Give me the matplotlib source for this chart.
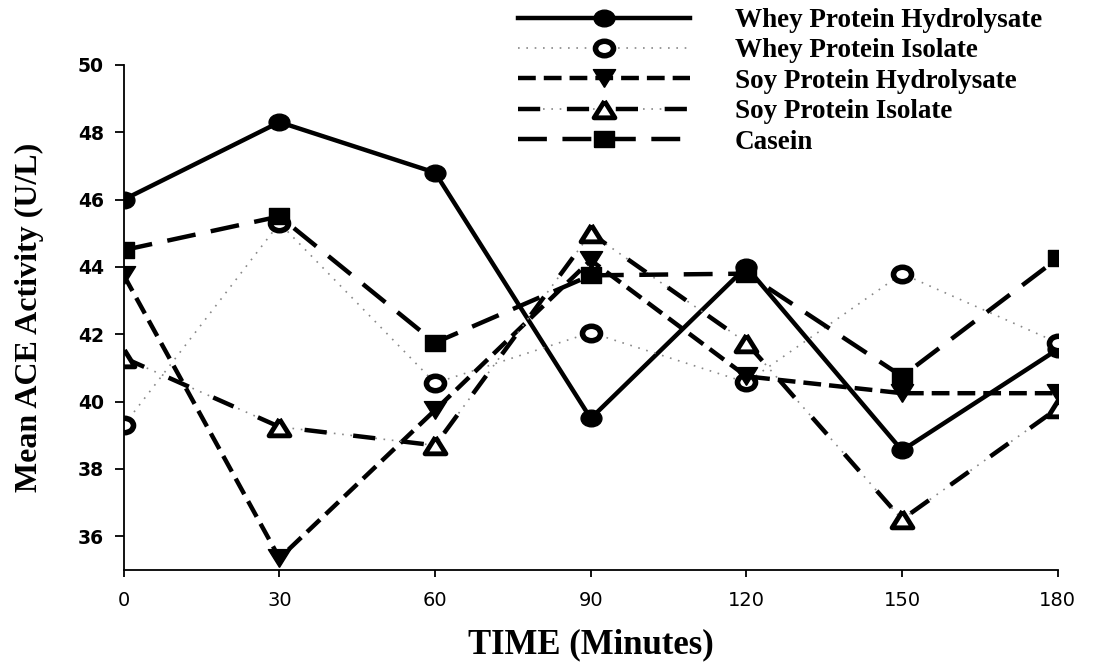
import numpy as np
from matplotlib import pyplot as plt
from matplotlib.path import Path
from matplotlib.markers import MarkerStyle

# sampling times (minutes)
time = [0, 30, 60, 90, 120, 150, 180]

# mean ACE activity (U/L)
whey_hydrolysate = [46.0, 48.3, 46.8, 39.5, 44.0, 38.55, 41.55]
whey_isolate = [39.3, 45.3, 40.55, 42.05, 40.57, 43.8, 41.75]
soy_hydrolysate = [43.75, 35.35, 39.75, 44.2, 40.75, 40.25, 40.25]
soy_isolate = [41.3, 39.25, 38.7, 45.0, 41.75, 36.5, 39.8]
casein = [44.5, 45.5, 41.75, 43.75, 43.8, 40.75, 44.25]

labels = ["Whey Protein Hydrolysate", "Whey Protein Isolate",
          "Soy Protein Hydrolysate", "Soy Protein Isolate", "Casein"]

# the original picture is a bit wider than tall, so the markers are too
sx = 1.25
def wide(verts, codes=None):
    v = np.array(verts, dtype=float)
    v[:, 0] *= sx
    return MarkerStyle(Path(v, codes))

circ = Path.unit_circle()
m_circle = wide(circ.vertices, circ.codes)
m_down = wide([(0, -1), (-1, 1), (1, 1), (0, -1)])
m_up = wide([(0, 1), (-1, -1), (1, -1), (0, 1)])
m_square = wide([(-1, -1), (1, -1), (1, 1), (-1, 1), (-1, -1)])

fig = plt.figure(figsize=(10.96, 6.62), dpi=100)
ax = fig.add_axes([0.113, 0.139, 0.852, 0.763])

lw = 3.2
h1, = ax.plot(time, whey_hydrolysate, color="black", lw=lw, ls="-",
              marker=m_circle, ms=15)
h2, = ax.plot(time, whey_isolate, color="#888888", lw=1.2, ls=(0, (1, 4)),
              marker=m_circle, ms=13, mfc="white", mec="black", mew=4)
h3, = ax.plot(time, soy_hydrolysate, color="black", lw=lw, ls=(0, (4, 1.8)),
              marker=m_down, ms=16)
h4a, = ax.plot(time, soy_isolate, color="#888888", lw=1.2, ls=(0, (1, 4)))
h4b, = ax.plot(time, soy_isolate, color="black", lw=lw, ls=(0, (5, 6)),
               marker=m_up, ms=15, mfc="white", mec="black", mew=3.5)
h5, = ax.plot(time, casein, color="black", lw=lw, ls=(0, (6.5, 3.5)),
              marker=m_square, ms=15)

ax.set_xlim(0, 180)
ax.set_ylim(35, 50)
ax.set_xticks(time)
ax.set_yticks([36, 38, 40, 42, 44, 46, 48, 50])
ax.spines["top"].set_visible(False)
ax.spines["right"].set_visible(False)
ax.spines["left"].set_linewidth(1.3)
ax.spines["bottom"].set_linewidth(1.3)
ax.tick_params(axis="x", direction="out", length=5, width=1.3, pad=10)
ax.tick_params(axis="y", direction="out", length=6.5, width=1.3, pad=8)

for t in ax.get_xticklabels():
    t.set_fontfamily("DejaVu Sans")
    t.set_fontsize(14)
for t in ax.get_yticklabels():
    t.set_fontfamily("DejaVu Sans")
    t.set_fontsize(13.5)
    t.set_fontweight("bold")

ax.set_xlabel("TIME (Minutes)", fontfamily="Liberation Serif", fontweight="bold",
              fontsize=25, labelpad=13)
ax.set_ylabel("Mean ACE Activity (U/L)", fontfamily="Liberation Serif",
              fontweight="bold", fontsize=23)
ax.yaxis.set_label_coords(-0.086, 0.5)

leg = ax.legend([h1, h2, h3, (h4a, h4b), h5], labels,
                loc="upper left", bbox_to_anchor=(518 / 1096, 1 - 8 / 662),
                bbox_transform=fig.transFigure, frameon=False,
                borderpad=0, borderaxespad=0, numpoints=1,
                prop={"family": "Liberation Serif", "weight": "bold", "size": 19.5},
                handlelength=6.35, handletextpad=1.65, labelspacing=0.2)

plt.savefig("out.png", dpi=100)
